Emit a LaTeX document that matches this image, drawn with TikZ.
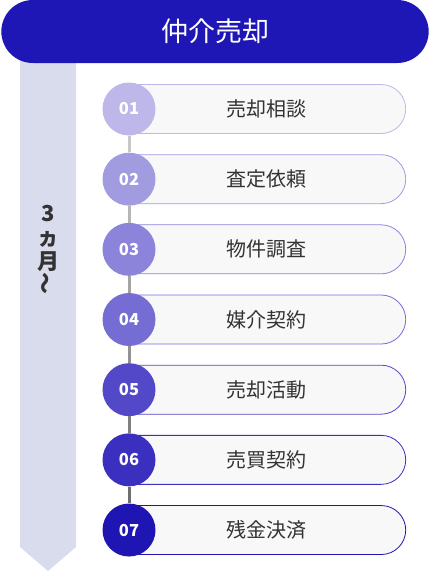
\documentclass[tikz,border=0pt]{standalone}
\usepackage{fontspec}
\setmainfont{Noto Sans CJK JP}
\usetikzlibrary{shapes.misc}
\definecolor{headblue}{HTML}{1E17B5}
\definecolor{barcol}{HTML}{D9DCEC}
\definecolor{pillbg}{HTML}{F8F8F8}
\definecolor{txtgray}{HTML}{333333}
\definecolor{st1}{HTML}{BDB8E9}
\definecolor{st2}{HTML}{A19CE0}
\definecolor{st3}{HTML}{8B84DA}
\definecolor{st4}{HTML}{756DD4}
\definecolor{st5}{HTML}{5248C8}
\definecolor{st6}{HTML}{3A2FBF}
\definecolor{st7}{HTML}{1E15B2}
\definecolor{ln1}{HTML}{C8C8C8}
\definecolor{ln2}{HTML}{B6B6B6}
\definecolor{ln3}{HTML}{A4A4A4}
\definecolor{ln4}{HTML}{929292}
\definecolor{ln5}{HTML}{808080}
\definecolor{ln6}{HTML}{6E6E6E}
\tikzset{
	stepnum/.style={circle, minimum size=53pt, inner sep=0pt, text=white, font=\bfseries\fontsize{16.5}{17}\selectfont},
	steppill/.style={rounded rectangle, rounded rectangle left arc=none, minimum width=283pt, minimum height=49pt, anchor=west, fill=pillbg, line width=0.8pt, text=txtgray, font=\fontsize{20}{20}\selectfont},
	link/.style={line width=3pt}
}
\begin{document}
\begin{tikzpicture}[x=1pt,y=-1pt]
	\useasboundingbox (0,0) rectangle (430,571);
	% period bar with arrow point
	\fill [barcol] (20,40) -- (76,40) -- (76,547) -- (48,571) -- (20,547) -- cycle;
	\node [rounded rectangle, fill=headblue, minimum width=434pt, minimum height=63pt, text=white, font=\fontsize{27}{30}\selectfont] (head) at (215,31.5) {仲介売却};
	\node [align=center, text=txtgray, font=\bfseries\fontsize{22}{24}\selectfont] (term) at (48,250) {3\\ヵ\\月\\\rotatebox{90}{〜}};
	% steps
	\foreach \i/\lbl in {1/売却相談, 2/査定依頼, 3/物件調査, 4/媒介契約, 5/売却活動, 6/売買契約, 7/残金決済} {
		\node [steppill, draw=st\i] (p\i) at (129,{109+(\i-1)*70.17}) {\lbl};
		\node [stepnum, fill=st\i] (c\i) at (129,{109+(\i-1)*70.17}) {0\i};
	}
	\foreach \i [evaluate=\i as \j using int(\i+1)] in {1,...,6}
		\draw [link, ln\i] (c\i) -- (c\j);
\end{tikzpicture}
\end{document}
